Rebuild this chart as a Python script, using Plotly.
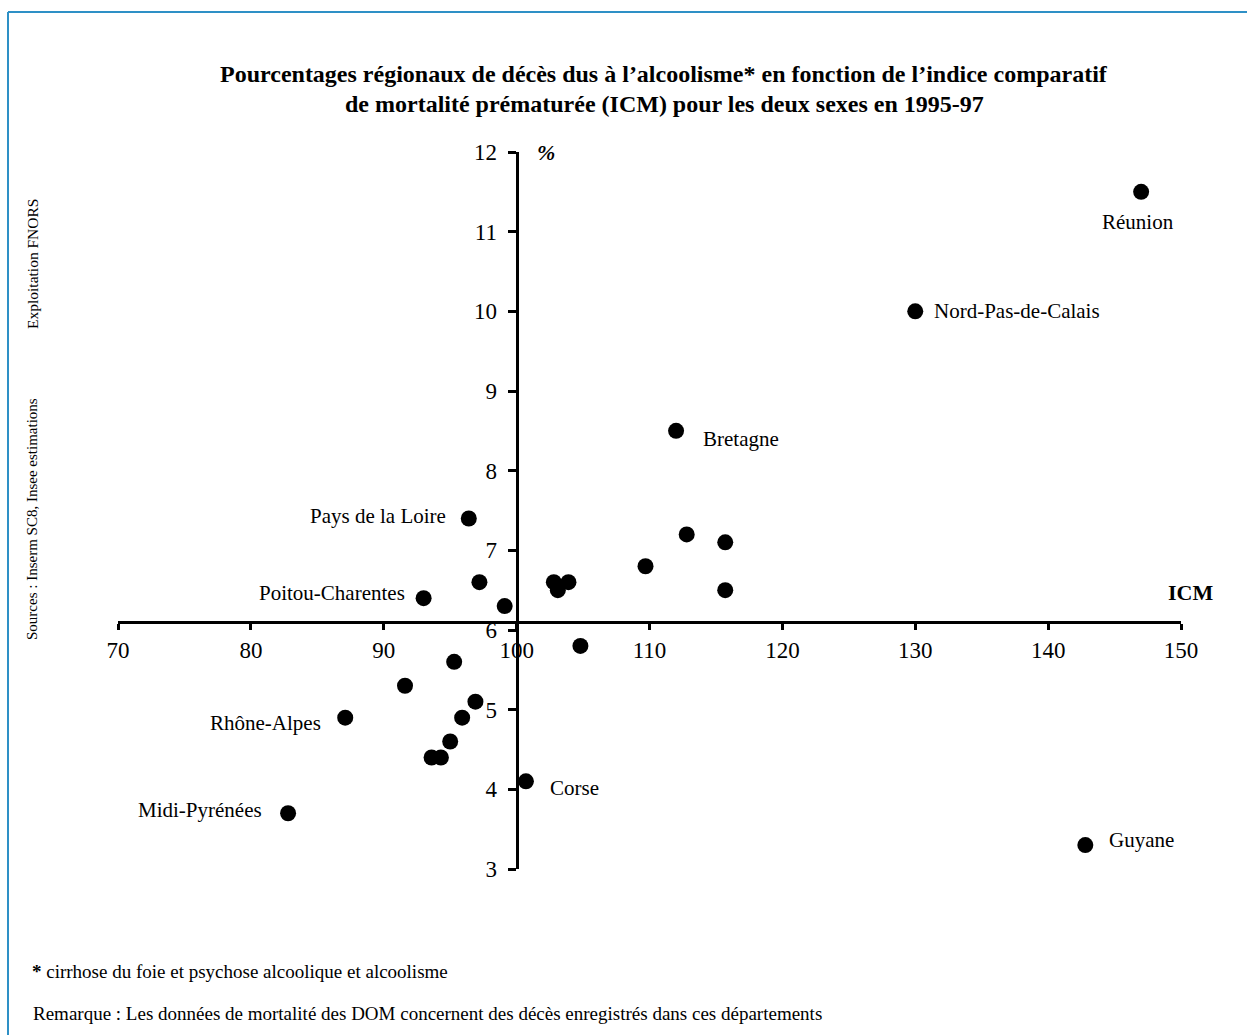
import plotly.graph_objects as go

# ---------------- data ----------------
regions = ["Réunion", "Nord-Pas-de-Calais", "Bretagne", "Pays de la Loire",
           "Poitou-Charentes", "Rhône-Alpes", "Midi-Pyrénées", "Corse", "Guyane",
           "", "", "", "", "", "", "", "", "", "", "", "", "", "", "", "", ""]
icm = [147.0, 130.0, 112.0, 96.4, 93.0, 87.1, 82.8, 100.7, 142.8,
       97.2, 99.1, 102.8, 103.1, 103.9, 104.8, 109.7, 112.8, 115.7, 115.7,
       95.3, 91.6, 96.9, 95.9, 95.0, 93.6, 94.3]
pct = [11.5, 10.0, 8.5, 7.4, 6.4, 4.9, 3.7, 4.1, 3.3,
       6.6, 6.3, 6.6, 6.5, 6.6, 5.8, 6.8, 7.2, 7.1, 6.5,
       5.6, 5.3, 5.1, 4.9, 4.6, 4.4, 4.4]
x_ticks = [70, 80, 90, 100, 110, 120, 130, 140, 150]
y_ticks = [3, 4, 5, 6, 7, 8, 9, 10, 11, 12]

title_lines = ["Pourcentages régionaux de décès dus à l’alcoolisme* en fonction de l’indice comparatif",
               "de mortalité prématurée (ICM) pour les deux sexes en 1995-97"]
footnote = "<b>*</b> cirrhose du foie et psychose alcoolique et alcoolisme"
remark = "Remarque : Les données de mortalité des DOM concernent des décès enregistrés dans ces départements"
source = "Sources : Inserm SC8, Insee estimations"
exploit = "Exploitation FNORS"

# ---------------- style ----------------
W, H = 1247, 1035
ML, MR, MT, MB = 118, 66, 152, 166
FONT = "Liberation Serif"
X_CROSS = 100      # where the y axis crosses
Y_CROSS = 6.1      # where the x axis crosses

label_style = {
    "Réunion": dict(xanchor="center", xshift=-3, yshift=-30),
    "Nord-Pas-de-Calais": dict(xanchor="left", xshift=17, yshift=0),
    "Bretagne": dict(xanchor="left", xshift=25, yshift=-8),
    "Pays de la Loire": dict(xanchor="right", xshift=-21, yshift=2),
    "Poitou-Charentes": dict(xanchor="right", xshift=-17, yshift=5),
    "Rhône-Alpes": dict(xanchor="right", xshift=-22, yshift=-5),
    "Midi-Pyrénées": dict(xanchor="right", xshift=-24, yshift=3),
    "Corse": dict(xanchor="left", xshift=22, yshift=-7),
    "Guyane": dict(xanchor="left", xshift=22, yshift=5),
}

PW, PH = W - ML - MR, H - MT - MB


def px(xp):
    return (xp - ML) / PW


def py(yp):
    return (H - MB - yp) / PH


fig = go.Figure()
fig.add_trace(go.Scatter(
    x=icm, y=pct, mode="markers",
    marker=dict(size=16, color="black"),
    hovertext=regions, showlegend=False, cliponaxis=False))

ann = []
for name, xv, yv in zip(regions, icm, pct):
    if name:
        st = label_style[name]
        ann.append(dict(x=xv, y=yv, xref="x", yref="y", text=name, showarrow=False,
                        yanchor="middle", font=dict(family=FONT, size=21, color="black"), **st))

for i, (line, yp) in enumerate(zip(title_lines, [74, 104])):
    ann.append(dict(x=px(664), y=py(yp), xref="paper", yref="paper", text="<b>" + line + "</b>",
                    showarrow=False, xanchor="center", yanchor="middle",
                    font=dict(family=FONT, size=24, color="black")))

ann.append(dict(x=px(546), y=py(152), xref="paper", yref="paper", text="<b><i>%</i></b>",
                showarrow=False, xanchor="center", yanchor="middle",
                font=dict(family=FONT, size=22, color="black")))
ann.append(dict(x=px(1190), y=py(592), xref="paper", yref="paper", text="<b>ICM</b>",
                showarrow=False, xanchor="center", yanchor="middle",
                font=dict(family=FONT, size=22, color="black")))
ann.append(dict(x=px(30), y=py(971), xref="paper", yref="paper", text=footnote,
                showarrow=False, xanchor="left", yanchor="middle",
                font=dict(family=FONT, size=19, color="black")))
ann.append(dict(x=px(31), y=py(1013), xref="paper", yref="paper", text=remark,
                showarrow=False, xanchor="left", yanchor="middle",
                font=dict(family=FONT, size=19, color="black")))
ann.append(dict(x=px(32), y=py(519), xref="paper", yref="paper", text=source, textangle=-90,
                showarrow=False, xanchor="center", yanchor="middle",
                font=dict(family=FONT, size=15, color="black")))
ann.append(dict(x=px(32), y=py(264), xref="paper", yref="paper", text=exploit, textangle=-90,
                showarrow=False, xanchor="center", yanchor="middle",
                font=dict(family=FONT, size=15.5, color="black")))

frame_col = "#2E90C6"
shapes = [
    dict(type="line", xref="paper", yref="paper", x0=px(8), x1=px(W + 5), y0=py(12), y1=py(12),
         line=dict(color=frame_col, width=2)),
    dict(type="line", xref="paper", yref="paper", x0=px(8), x1=px(8), y0=py(12), y1=py(H + 5),
         line=dict(color=frame_col, width=2)),
]

fig.update_layout(
    width=W, height=H, margin=dict(l=ML, r=MR, t=MT, b=MB, pad=0),
    paper_bgcolor="white", plot_bgcolor="white",
    font=dict(family=FONT, color="black"),
    annotations=ann, shapes=shapes,
    xaxis=dict(range=[70, 150], tickvals=x_ticks, ticktext=[str(v) for v in x_ticks],
               showgrid=False, zeroline=False, showline=True, linecolor="black", linewidth=3,
               ticks="outside", ticklen=6, tickwidth=2.5, tickcolor="black",
               anchor="free", position=(Y_CROSS - 3) / 9,
               tickfont=dict(family=FONT, size=23, color="black")),
    yaxis=dict(range=[3, 12], tickvals=y_ticks, ticktext=[str(v) for v in y_ticks],
               showgrid=False, zeroline=False, showline=True, linecolor="black", linewidth=3,
               ticks="outside", ticklen=8, tickwidth=2.5, tickcolor="black",
               anchor="free", position=(X_CROSS - 70) / 80, ticklabelstandoff=6,
               tickfont=dict(family=FONT, size=23, color="black")),
)

fig.write_html("out.html", config={"displayModeBar": False},
               post_script="document.body.style.margin='0';")
